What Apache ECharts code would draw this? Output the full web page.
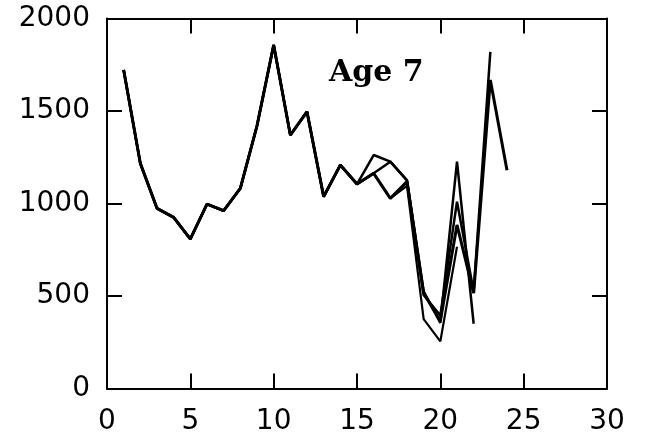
<!DOCTYPE html>
<html>
<head>
<meta charset="utf-8">
<script src="https://cdn.jsdelivr.net/npm/echarts@6/dist/echarts.min.js"></script>
<style>
  html, body { margin: 0; padding: 0; background: #fff; }
  #chart { width: 645px; height: 445px; }
</style>
</head>
<body>
<div id="chart"></div>
<script>
// Years on the x axis
const years = [1, 2, 3, 4, 5, 6, 7, 8, 9, 10, 11, 12, 13, 14, 15, 16, 17, 18, 19, 20, 21, 22, 23, 24];

// Shared history for years 1-15
const common = [1722, 1217, 974, 925, 808, 997, 961, 1082, 1420, 1857, 1370, 1496, 1037, 1208, 1105];

// Run values for years 16 onward (each run ends one year earlier)
const runTo24 = [1163, 1028, 1118, 515, 365, 884, 515, 1668, 1180];
const runTo23 = [1262, 1226, 1125, 505, 395, 1010, 525, 1820];
const runTo22 = [1163, 1226, 1125, 525, 355, 1226, 350];
const runTo21 = [1163, 1028, 1095, 375, 255, 766];

const xTicks = [0, 5, 10, 15, 20, 25, 30];
const yTicks = [0, 500, 1000, 1500, 2000];

function pairs(tail) {
  const vals = common.concat(tail);
  return vals.map((v, i) => [years[i], v]);
}

const chart = echarts.init(document.getElementById('chart'), null, { renderer: 'canvas' });

function axisParts() {
  return {
    axisLine: { show: true, onZero: false, lineStyle: { color: '#000', width: 2 } },
    axisTick: { show: true, inside: true, length: 15, lineStyle: { color: '#000', width: 2 } },
    splitLine: { show: false }
  };
}
const labelFont = { color: '#000', fontFamily: 'DejaVu Sans', fontSize: 28, formatter: v => String(v) };

function line(name, tail, width) {
  return {
    name: name,
    type: 'line',
    data: pairs(tail),
    symbol: 'none',
    xAxisIndex: 0,
    yAxisIndex: 0,
    lineStyle: { color: '#000', width: width },
    animation: false
  };
}

chart.setOption({
  backgroundColor: '#fff',
  animation: false,
  grid: { left: 107, right: 38, top: 18.5, bottom: 56.5, containLabel: false },
  xAxis: [
    Object.assign({
      type: 'value', min: xTicks[0], max: xTicks[xTicks.length - 1], interval: 5, position: 'bottom',
      axisLabel: Object.assign({ margin: 19 }, labelFont)
    }, axisParts()),
    Object.assign({
      type: 'value', min: xTicks[0], max: xTicks[xTicks.length - 1], interval: 5, position: 'top',
      axisLabel: { show: false }
    }, axisParts())
  ],
  yAxis: [
    Object.assign({
      type: 'value', min: yTicks[0], max: yTicks[yTicks.length - 1], interval: 500, position: 'left',
      axisLabel: Object.assign({ margin: 17, padding: [6, 0, 0, 0] }, labelFont)
    }, axisParts()),
    Object.assign({
      type: 'value', min: yTicks[0], max: yTicks[yTicks.length - 1], interval: 500, position: 'right',
      axisLabel: { show: false }
    }, axisParts())
  ],
  graphic: [{
    type: 'text',
    x: 329,
    y: 73,
    style: {
      text: 'Age 7',
      font: 'bold 30px "DejaVu Serif"',
      fill: '#000',
      textAlign: 'left',
      textVerticalAlign: 'middle'
    }
  }],
  series: [
    line('to24', runTo24, 3),
    line('to23', runTo23, 2.5),
    line('to22', runTo22, 2.5),
    line('to21', runTo21, 2.2)
  ]
});
</script>
</body>
</html>
